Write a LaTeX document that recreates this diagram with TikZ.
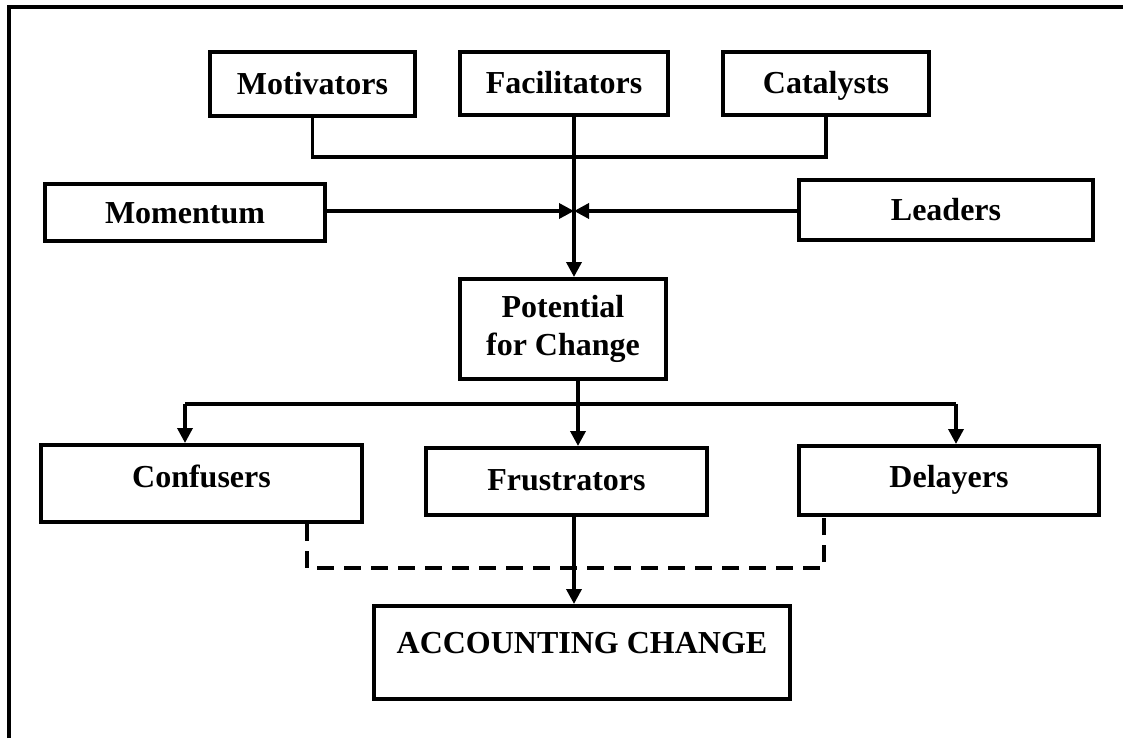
\documentclass[tikz,border=0pt]{standalone}
\usepackage{fontspec}
\setmainfont{Liberation Serif}
\usetikzlibrary{arrows.meta}
\begin{document}
\begin{tikzpicture}[x=1pt,y=-1pt,
  box/.style={draw,line width=4pt,rectangle,inner sep=0pt,align=center,
    font=\bfseries\fontsize{32}{38}\selectfont},
  % one-line label with a fixed cap height; a larger depth lifts the text by half of it
  oneline/.style={text height=21pt,text depth=#1},
  oneline/.default=0pt,
  link/.style={line width=3.5pt},
  arr/.style={link,-{Triangle[length=15pt,width=15pt]}},
  weak/.style={line width=4pt,dash pattern=on 17pt off 10pt}]
\useasboundingbox (0,0) rectangle (1123,738);
% frame along the top and left edges
\draw[line width=4pt] (9,738) -- (9,7) -- (1123,7);
% sources of change
\node[box,oneline,minimum width=205,minimum height=64] (mot) at (312.5,84) {Motivators};
\node[box,oneline,minimum width=208,minimum height=63] (fac) at (564,83.5) {Facilitators};
\node[box,oneline,minimum width=206,minimum height=63] (cat) at (826,83.5) {Catalysts};
\node[box,oneline,minimum width=280,minimum height=57] (mom) at (185,212.5) {Momentum};
\node[box,oneline,minimum width=294,minimum height=60] (lea) at (946,210) {Leaders};
\node[box,minimum width=206,minimum height=100] (pot) at (563,329) {Potential\\for Change};
% barriers
\node[box,oneline=14pt,minimum width=321,minimum height=77] (con) at (201.5,483.5) {Confusers};
\node[box,oneline=4pt,minimum width=281,minimum height=67] (fru) at (566.5,481.5) {Frustrators};
\node[box,oneline=8pt,minimum width=300,minimum height=69] (del) at (949,480.5) {Delayers};
\node[box,oneline=20pt,minimum width=416,minimum height=93] (acc) at (582,652.5) {ACCOUNTING CHANGE};
% routing points
\coordinate (jn) at (574,211);
\coordinate (brk) at (574,157);
\coordinate (br) at (578,404);
\coordinate (bl) at (185,404);
\coordinate (brr) at (956,404);
\coordinate (dl) at (307,568);
\coordinate (dr) at (824,568);
% upper connectors
\draw[link] (mot.south) |- (brk) -| (cat.south);
\draw[arr] (fac.south -| jn) -- (pot.north -| jn);
\draw[arr] (mom.east |- jn) -- (jn);
\draw[arr] (lea.west |- jn) -- (jn);
% lower connectors
\draw[link] (pot.south -| br) -- (br);
\draw[link] (bl) -- (brr);
\draw[arr] (br) -- (fru.north -| br);
\draw[arr] (bl) -- (bl |- con.north);
\draw[arr] (brr) -- (brr |- del.north);
\draw[weak] (dl |- con.south) -- (dl) -- (dr) -- (dr |- del.south);
\draw[arr] (fru.south -| jn) -- (acc.north -| jn);
\end{tikzpicture}
\end{document}
